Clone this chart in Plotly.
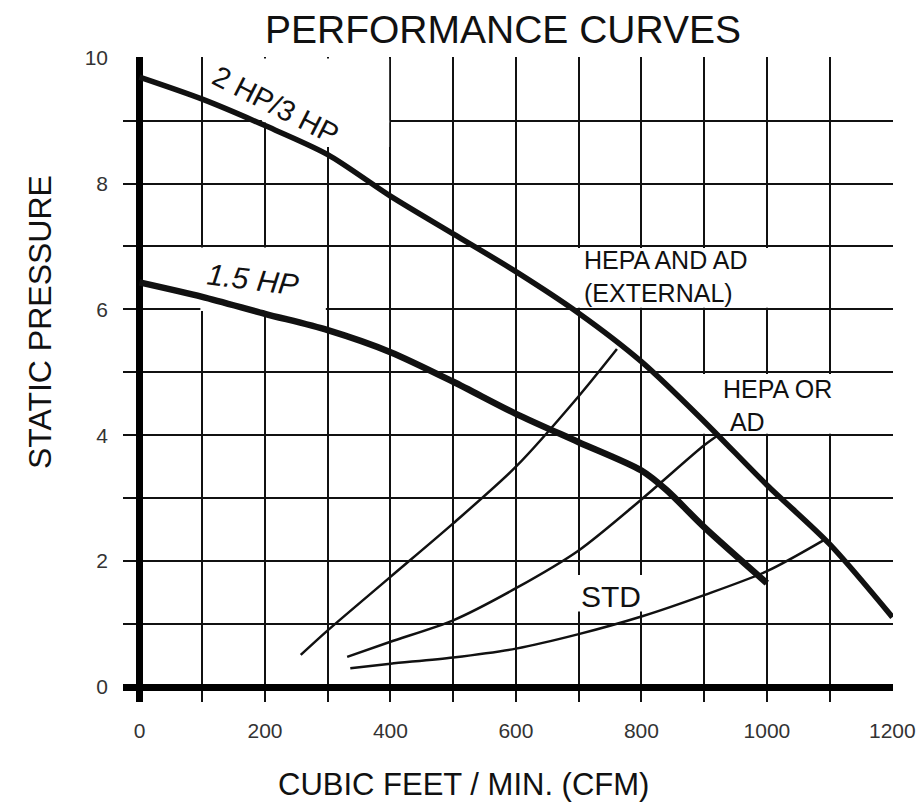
import plotly.graph_objects as go

# ---- data ----
cfm_2hp = [0, 100, 200, 300, 400, 500, 600, 700, 800, 900, 1000, 1100, 1200]
sp_2hp = [9.69, 9.34, 8.92, 8.46, 7.80, 7.20, 6.60, 5.94, 5.17, 4.22, 3.21, 2.27, 1.11]

cfm_15hp = [0, 100, 200, 300, 400, 500, 600, 700, 800, 840, 900, 1000]
sp_15hp = [6.43, 6.20, 5.93, 5.67, 5.32, 4.85, 4.34, 3.89, 3.44, 3.13, 2.54, 1.65]

cfm_hepa_and_ad = [257, 300, 400, 500, 600, 700, 761]
sp_hepa_and_ad = [0.51, 0.90, 1.75, 2.60, 3.50, 4.62, 5.37]

cfm_hepa_or_ad = [331, 400, 500, 600, 700, 800, 900, 925]
sp_hepa_or_ad = [0.48, 0.72, 1.06, 1.57, 2.17, 2.98, 3.84, 4.02]

cfm_std = [336, 400, 500, 600, 700, 800, 900, 1000, 1090]
sp_std = [0.30, 0.37, 0.47, 0.61, 0.84, 1.12, 1.46, 1.84, 2.33]

x_tick_vals = [0, 100, 200, 300, 400, 500, 600, 700, 800, 900, 1000, 1100, 1200]
x_tick_text = ["0", "", "200", "", "400", "", "600", "", "800", "", "1000", "", "1200"]
y_tick_vals = [0, 1, 2, 3, 4, 5, 6, 7, 8, 9, 10]
y_tick_text = ["0", "", "2", "", "4", "", "6", "", "8", "", "10"]

title_text = "PERFORMANCE CURVES"
x_title = "CUBIC FEET / MIN. (CFM)"
y_title = "STATIC PRESSURE"

FONT = "Liberation Sans, Arial, Helvetica, sans-serif"

fig = go.Figure()

def add_curve(x, y, width):
    fig.add_trace(go.Scatter(
        x=x, y=y, mode="lines",
        line=dict(color="#111111", width=width, shape="spline", smoothing=0.8),
        hoverinfo="skip", showlegend=False))

add_curve(cfm_hepa_and_ad, sp_hepa_and_ad, 2.5)
add_curve(cfm_hepa_or_ad, sp_hepa_or_ad, 2.5)
add_curve(cfm_std, sp_std, 2.5)
add_curve(cfm_2hp, sp_2hp, 5.5)
add_curve(cfm_15hp, sp_15hp, 6.5)

# white boxes behind labels (hide grid lines like the reference)
boxes = [
    (195, 398, 8.97, 9.985),
    (250, 398, 8.58, 9.0),
    (97, 297, 5.975, 6.985),
    (605, 1095, 6.025, 6.975),
    (895, 1195, 4.025, 4.975),
    (693, 807, 1.20, 1.78),
]
for x0, x1, y0, y1 in boxes:
    fig.add_shape(type="rect", xref="x", yref="y", x0=x0, x1=x1, y0=y0, y1=y1,
                  fillcolor="white", line=dict(width=0), layer="between")

def label(text, x, y, size, angle=0, xanchor="center", style="normal",
          xref="x", yref="y", align="center"):
    fig.add_annotation(text=text, x=x, y=y, xref=xref, yref=yref, showarrow=False,
                       xanchor=xanchor, yanchor="middle", textangle=angle, align=align,
                       font=dict(family=FONT, size=size, color="#111111", style=style))

label("2 HP/3 HP", 217, 9.24, 29, angle=27)
label("1.5 HP", 181, 6.48, 30, angle=7, style="italic")
label("HEPA AND AD<br>(EXTERNAL)", 705, 6.53, 25, xanchor="left", align="left")
label("HEPA OR<br>\u00a0AD", 927, 4.48, 25, xanchor="left", align="left")
label("STD", 751, 1.44, 30)

label(title_text, 0.494, 1.0419, 39, xref="paper", yref="paper")
label(x_title, 0.4416, -0.1276, 31, xref="paper", yref="paper")
label(y_title, -0.1078, 0.589, 32, angle=-90, xref="paper", yref="paper")

axis_common = dict(
    showgrid=True, gridcolor="#111111", gridwidth=1.5,
    zeroline=True, zerolinecolor="#000000", zerolinewidth=7,
    showline=False, ticks="", automargin=False,
    tickfont=dict(family=FONT, size=21, color="#333333"),
    fixedrange=True,
)

fig.update_layout(
    width=922, height=803,
    margin=dict(l=123, r=29, t=57, b=101, autoexpand=False),
    paper_bgcolor="white", plot_bgcolor="white",
    showlegend=False,
    xaxis=dict(range=[-26.3, 1201], tickmode="array", tickvals=x_tick_vals,
               ticktext=x_tick_text, ticklabelstandoff=14, **axis_common),
    yaxis=dict(range=[-0.238, 10.01], tickmode="array", tickvals=y_tick_vals,
               ticktext=y_tick_text, ticklabelstandoff=14, **axis_common),
)

fig.write_html("out.html", config={"displayModeBar": False},
               post_script="document.body.style.margin='0px';")
